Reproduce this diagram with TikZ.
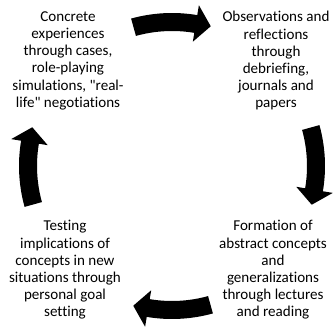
\documentclass[tikz,border=0pt]{standalone}
\usepackage{fontspec}
\newfontfamily\stagefont{Carlito}[Ligatures=NoCommon]
\tikzset{every picture/.style={line width=0.75pt}}
\tikzset{stage/.style={anchor=north,align=center,inner sep=0pt,font=\stagefont\fontsize{11.3}{12.9}\selectfont}}

\begin{document}
\begin{tikzpicture}[x=0.75pt,y=0.75pt,yscale=-1,xscale=1]
\useasboundingbox (0,0) rectangle (335,327);

\foreach \a in {270,0,90,180} {
\fill [shift={(172,166)}] (\a-15.5:135) arc [start angle=\a-15.5, end angle=\a+9.5, radius=135] -- (\a+9.5:126) -- (\a+15.5:145) -- (\a+9.5:163) -- (\a+9.5:153) arc [start angle=\a+9.5, end angle=\a-15.5, radius=153] -- cycle ;
}

\draw (68,11) node [stage] (concrete) {Concrete\\experiences\\through cases,\\role-playing\\simulations, "real-\\life" negotiations};
\draw (276,11) node [stage] (observe) {Observations and\\reflections\\through\\debriefing,\\journals and\\papers};
\draw (273,220) node [stage] (abstract) {Formation of\\abstract concepts\\and\\generalizations\\through lectures\\and reading};
\draw (65,220) node [stage] (testing) {Testing\\implications of\\concepts in new\\situations through\\personal goal\\setting};

\end{tikzpicture}
\end{document}
